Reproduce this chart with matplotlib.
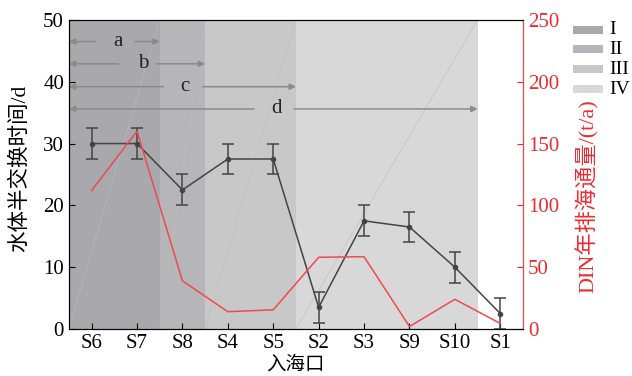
import numpy as np
import matplotlib.pyplot as plt
from matplotlib.patches import Rectangle

plt.rcParams['font.family'] = ['Liberation Serif', 'Noto Sans CJK SC']
plt.rcParams['axes.unicode_minus'] = False

# data
sites = ['S6', 'S7', 'S8', 'S4', 'S5', 'S2', 'S3', 'S9', 'S10', 'S1']
half_time = [30, 30, 22.5, 27.5, 27.5, 3.5, 17.5, 16.5, 10, 2.5]
half_err = [2.5, 2.5, 2.5, 2.5, 2.5, 2.5, 2.5, 2.5, 2.5, 2.5]
din_flux = [112, 160, 39, 14, 15.5, 58, 58.5, 2, 24, 4.5]

# zones (index ranges) and their colours
zone_names = ['I', 'II', 'III', 'IV']
zone_edges = [-0.5, 1.5, 2.5, 4.5, 8.5]
zone_colors = ['#a9a9ad', '#b6b6b8', '#c8c8c8', '#d8d8d8']

# arrows a-d: end index, height, gap around the label, label position
arrow_names = ['a', 'b', 'c', 'd']
arrow_ends = [1.5, 2.5, 4.5, 8.5]
arrow_y = [46.5, 42.9, 39.2, 35.6]
gap_left = [0.08, 0.59, 1.58, 3.58]
gap_right = [0.95, 1.43, 2.44, 4.46]
arrow_lab = [0.59, 1.14, 2.05, 4.07]

x = np.arange(len(sites))
W, H = 632, 376

fig = plt.figure(figsize=(6.32, 3.76), dpi=100)
ax = fig.add_axes([0.109, 0.125, 0.7185, 0.822])
ax2 = ax.twinx()

for i in range(4):
    ax.axvspan(zone_edges[i], zone_edges[i + 1], color=zone_colors[i], lw=0, zorder=0)
    ax.plot([zone_edges[i], zone_edges[i + 1]], [0, 50], color='#bdbdbd', lw=0.4, zorder=0.5)

for name, end, yy, gl, gr, lab in zip(arrow_names, arrow_ends, arrow_y, gap_left, gap_right, arrow_lab):
    props = dict(arrowstyle='-|>', color='#8a8a8a', lw=1.1, mutation_scale=9, shrinkA=0, shrinkB=0)
    ax.annotate('', xy=(-0.5, yy), xytext=(gl, yy), arrowprops=props)
    ax.annotate('', xy=(end, yy), xytext=(gr, yy), arrowprops=props)
    ax.text(lab, yy, name, ha='center', va='center', fontsize=15, color='#222222')

ax.errorbar(x, half_time, yerr=half_err, color='#444444', lw=1.1, marker='o', ms=3,
            capsize=4, elinewidth=1.1, capthick=1.1, zorder=3)
ax2.plot(x, din_flux, color='#ee4a50', lw=1.1, zorder=3)

ax.set_xlim(-0.5, 9.5)
ax.set_ylim(0, 50)
ax2.set_ylim(0, 250)
ax.set_xticks(x)
ax.set_xticklabels(sites)
ax.set_yticks(np.arange(0, 51, 10))
ax2.set_yticks(np.arange(0, 251, 50))

ax.tick_params(direction='in', labelsize=15, length=4)
ax2.tick_params(direction='in', labelsize=15, length=4, colors='#ee2a30')
ax2.spines['right'].set_color('#ee4a50')

ax.set_xlabel('入海口', fontsize=14, labelpad=2)
ax.set_ylabel('水体半交换时间/d', fontsize=15.5)
ax.yaxis.set_label_coords(-0.085, 0.52)
ax2.set_ylabel('DIN年排海通量/(t/a)', fontsize=16, color='#ee2a30')
ax2.yaxis.set_label_coords(1.115, 0.43)

# legend drawn by hand on the right margin
leg_y = [30, 49, 69, 89]
for c, n, yy in zip(zone_colors, zone_names, leg_y):
    fig.patches.append(Rectangle((573 / W, 1 - (yy + 4) / H), 30 / W, 8 / H,
                                 color=c, lw=0, transform=fig.transFigure))
    fig.text(609 / W, 1 - yy / H, n, fontsize=14, va='center', ha='left')

fig.savefig('out.png', dpi=100)
